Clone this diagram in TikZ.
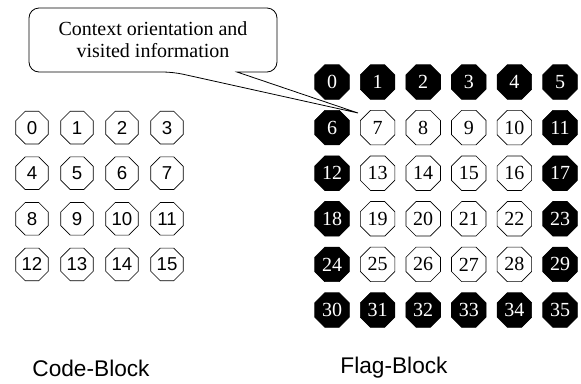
\documentclass[tikz,border=0pt]{standalone}
\usepackage{fontspec}
\setmainfont{Liberation Serif}
\setsansfont{Liberation Sans}
\usetikzlibrary{shapes.geometric}

\begin{document}
\begin{tikzpicture}[
    x=0.75pt, y=-0.75pt,
    every node/.style = {inner sep=0pt},
    octv/.style       = {regular polygon, regular polygon sides=8, draw, line width=0.5pt},
    codev/.style      = {octv, minimum size=26.5pt, font=\sffamily\fontsize{14}{14}\selectfont},
    flagv/.style      = {octv, minimum size=28pt, font=\fontsize{15}{15}\selectfont},
    darkv/.style      = {fill=black, text=white},
    blocklbl/.style   = {font=\sffamily\fontsize{17}{17}\selectfont}
    ]
  \useasboundingbox (0,0) rectangle (581,383);

  % code block -----------------------------------------------
  \foreach \r in {0,...,3}
    \foreach \c in {0,...,3}{
      \pgfmathtruncatemacro\k{4*\r+\c}
      \node[codev] (c\k) at (32+45*\c, 127.6+45.6*\r) {\k};
    }

  % flag block -----------------------------------------------
  \foreach \r in {0,...,5}
    \foreach \c in {0,...,5}{
      \pgfmathtruncatemacro\k{6*\r+\c}
      \pgfmathtruncatemacro\edge{or(or(\r==0,\r==5),or(\c==0,\c==5))}
      \ifnum\edge=1
        \node[flagv,darkv] (f\k) at (332+45.6*\c, 82+45.6*\r) {\k};
      \else
        \node[flagv] (f\k) at (332+45.6*\c, 82+45.6*\r) {\k};
      \fi
    }

  % callout --------------------------------------------------
  \node[font=\fontsize{15}{16.5}\selectfont, align=center] (note) at (153,40)
       {Context orientation and\\visited information};
  \coordinate (tip) at (358,113);
  \draw[line width=0.6pt] (tip) -- (237,72) [rounded corners=7.5pt] -- (277,72)
       -- (277,8) -- (29,8) -- (29,72) -- (173,72) [sharp corners] -- cycle;

  % labels ---------------------------------------------------
  \node[blocklbl] (codelbl) at (91,368)  {Code-Block};
  \node[blocklbl] (flaglbl) at (394,368) {Flag-Block};
\end{tikzpicture}
\end{document}
